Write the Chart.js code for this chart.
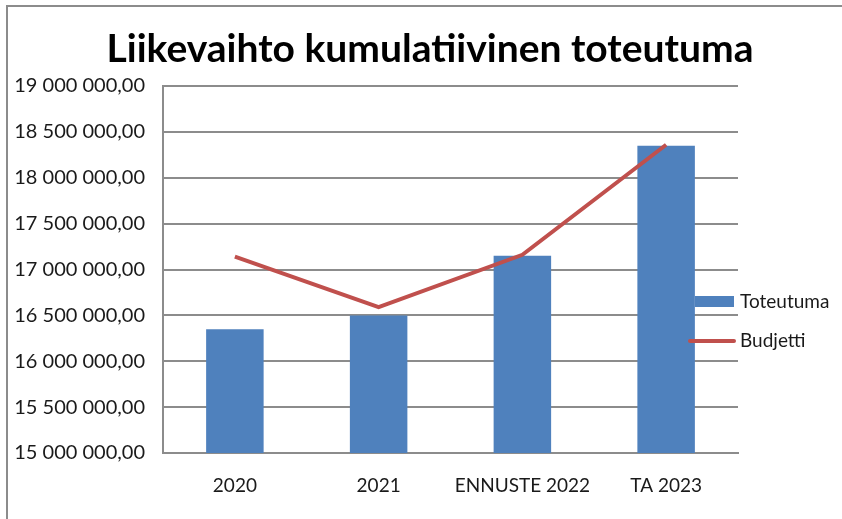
<!DOCTYPE html>
<html>
<head>
<meta charset="utf-8">
<script src="https://cdn.jsdelivr.net/npm/chart.js@4"></script>
<style>
  html, body { margin: 0; padding: 0; background: #fff; }
  #wrap { width: 842px; height: 519px; position: relative; }
</style>
</head>
<body>
<div id="wrap"><canvas id="myChart" width="842" height="519"></canvas></div>
<script>
// Vuodet / kategoriat
const kategoriat = ['2020', '2021', 'ENNUSTE 2022', 'TA 2023'];
// Toteutuma (pylväät)
const toteutuma = [16350000, 16500000, 17150000, 18350000];
// Budjetti (viiva)
const budjetti = [17140000, 16590000, 17160000, 18360000];
// Y-akselin rajat
const yMin = 15000000;
const yMax = 19000000;
const yStep = 500000;

const otsikko = 'Liikevaihto kumulatiivinen toteutuma';
const fontti = 'Lato, "Open Sans", sans-serif';
const sininen = '#4F81BD';
const punainen = '#C0504D';
const harmaa = '#8C8C8C';
const teksti = '#1a1a1a';

// Suomalainen lukumuoto: 19 000 000,00
function muotoile(arvo) {
    const osat = arvo.toFixed(2).split('.');
    return osat[0].replace(/\B(?=(\d{3})+(?!\d))/g, ' ') + ',' + osat[1];
}

// Kehys, otsikko ja selite piirretään itse (selite on kaavioalueen päällä)
const kehysJaSelite = {
    id: 'kehysJaSelite',
    afterDraw(chart) {
        const c = chart.ctx;
        c.save();
        c.strokeStyle = harmaa;
        c.lineWidth = 2;
        c.beginPath();
        c.moveTo(7, chart.height);
        c.lineTo(7, 6);
        c.lineTo(chart.width, 6);
        c.stroke();

        // otsikko
        c.fillStyle = '#000';
        c.textAlign = 'center';
        c.textBaseline = 'middle';
        c.font = 'bold 39px ' + fontti;
        c.fillText(otsikko, 430, 49);

        c.textAlign = 'left';
        c.font = '19px ' + fontti;
        // Toteutuma
        c.fillStyle = sininen;
        c.fillRect(695, 296, 39, 11);
        c.fillStyle = teksti;
        c.fillText(chart.data.datasets[0].label, 740, 302);
        // Budjetti
        c.strokeStyle = punainen;
        c.lineWidth = 4;
        c.lineCap = 'round';
        c.beginPath();
        c.moveTo(690, 341);
        c.lineTo(734, 341);
        c.stroke();
        c.fillText(chart.data.datasets[1].label, 740, 341);
        c.restore();
    }
};

document.addEventListener('DOMContentLoaded', function() {
    const ctx = document.getElementById('myChart').getContext('2d');

    const data = {
        labels: kategoriat,
        datasets: [{
            type: 'bar',
            label: 'Toteutuma',
            data: toteutuma,
            backgroundColor: sininen,
            barPercentage: 0.4,
            categoryPercentage: 1,
            order: 1
        }, {
            type: 'line',
            label: 'Budjetti',
            data: budjetti,
            borderColor: punainen,
            borderWidth: 4,
            pointRadius: 0,
            tension: 0,
            order: 0
        }]
    };

    new Chart(ctx, {
        data: data,
        options: {
            responsive: false,
            animation: false,
            layout: { padding: { left: 0, right: 104, top: 86, bottom: 0 } },
            plugins: {
                legend: { display: false },
                tooltip: { enabled: false },
                title: { display: false }
            },
            scales: {
                x: {
                    grid: { display: false, drawTicks: false },
                    border: { color: harmaa, width: 2 },
                    ticks: {
                        color: teksti,
                        padding: 21,
                        font: { family: fontti, size: 19 }
                    },
                    afterFit: function(axis) { axis.height = 66; }
                },
                y: {
                    min: yMin,
                    max: yMax,
                    grid: { color: harmaa, lineWidth: 2, drawTicks: false },
                    border: { color: harmaa, width: 2 },
                    ticks: {
                        stepSize: yStep,
                        color: teksti,
                        padding: 18,
                        font: { family: fontti, size: 20 },
                        callback: function(value) { return muotoile(value); }
                    },
                    afterFit: function(axis) { axis.width = 163; }
                }
            }
        },
        plugins: [kehysJaSelite]
    });
});
</script>
</body>
</html>
